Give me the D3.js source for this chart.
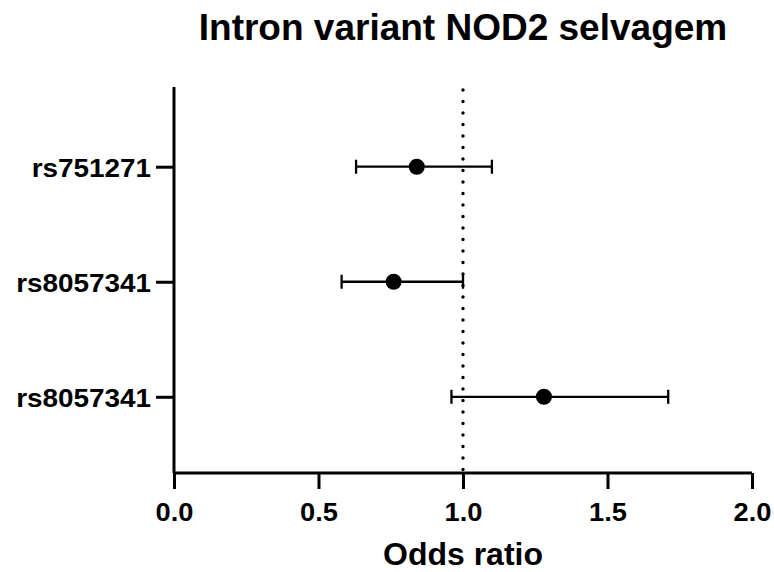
<!DOCTYPE html>
<html>
<head>
<meta charset="utf-8">
<script src="https://cdn.jsdelivr.net/npm/d3@7"></script>
<style>
  body { margin: 0; background: #fff; }
  svg text { font-family: "Liberation Sans", Arial, sans-serif; font-weight: bold; fill: #000; }
</style>
</head>
<body>
<svg id="chart" width="774" height="572"></svg>
<script>
// values
var snps = ["rs751271", "rs8057341", "rs8057341"];
var oddsRatio = [0.84, 0.76, 1.28];
var ciLow = [0.63, 0.58, 0.96];
var ciHigh = [1.10, 1.00, 1.71];
var xTicks = [0, 0.5, 1, 1.5, 2];

var svg = d3.select("#chart");

var x = d3.scaleLinear().domain([0, 2]).range([174, 752]);
var y = d3.scalePoint()
    .domain(d3.range(snps.length))
    .range([88.5, 475])
    .padding(0.68);

var yTop = 87, yBottom = 473;

// stretch text a bit, the labels are wider than plain Arial
function widen(sel, f) {
  sel.each(function() {
    var w = this.getComputedTextLength();
    d3.select(this).attr("textLength", w * f).attr("lengthAdjust", "spacingAndGlyphs");
  });
}

// title
svg.append("text")
    .attr("x", 463)
    .attr("y", 40)
    .attr("text-anchor", "middle")
    .style("font-size", "37px")
    .text("Intron variant NOD2 selvagem");

// reference line at OR = 1
svg.append("line")
    .attr("x1", x(1)).attr("x2", x(1))
    .attr("y1", 90).attr("y2", 471)
    .attr("stroke", "#000")
    .attr("stroke-width", 3.4)
    .attr("stroke-linecap", "round")
    .attr("stroke-dasharray", "0 11.5");

// x axis
var xAxis = svg.append("g")
    .attr("transform", "translate(0," + yBottom + ")")
    .call(d3.axisBottom(x).tickValues(xTicks).tickFormat(d3.format(".1f")).tickSize(16).tickPadding(14));

// y axis
var yAxis = svg.append("g")
    .attr("transform", "translate(174,0)")
    .call(d3.axisLeft(y).tickFormat(function(i) { return snps[i]; }).tickSize(18).tickPadding(5));

xAxis.select(".domain").attr("d", "M" + x.range()[0] + ",0H" + x.range()[1]);
yAxis.select(".domain").attr("d", "M0," + yTop + "V" + yBottom);

[xAxis, yAxis].forEach(function(g) {
  g.select(".domain").attr("stroke", "#000").attr("stroke-width", 3);
  g.selectAll(".tick line").attr("stroke", "#000").attr("stroke-width", 3);
  g.selectAll(".tick text").style("font-size", "25px").attr("font-family", null);
});
xAxis.selectAll(".tick text").attr("dy", "0.71em");
yAxis.selectAll(".tick text").attr("dy", "0.4em");
widen(xAxis.selectAll(".tick text"), 1.09);
widen(yAxis.selectAll(".tick text"), 1.115);

// x axis title
svg.append("text")
    .attr("x", 463)
    .attr("y", 565)
    .attr("text-anchor", "middle")
    .style("font-size", "32px")
    .text("Odds ratio");

// error bars
var rows = svg.append("g").selectAll("g")
    .data(d3.range(snps.length))
    .join("g");

rows.append("line")
    .attr("x1", function(i) { return x(ciLow[i]); })
    .attr("x2", function(i) { return x(ciHigh[i]); })
    .attr("y1", function(i) { return y(i); })
    .attr("y2", function(i) { return y(i); })
    .attr("stroke", "#000").attr("stroke-width", 2.3);

[ciLow, ciHigh].forEach(function(arr) {
  rows.append("line")
      .attr("x1", function(i) { return x(arr[i]); })
      .attr("x2", function(i) { return x(arr[i]); })
      .attr("y1", function(i) { return y(i) - 7; })
      .attr("y2", function(i) { return y(i) + 7; })
      .attr("stroke", "#000").attr("stroke-width", 2.3);
});

rows.append("circle")
    .attr("cx", function(i) { return x(oddsRatio[i]); })
    .attr("cy", function(i) { return y(i); })
    .attr("r", 8)
    .attr("fill", "#000");
</script>
</body>
</html>
